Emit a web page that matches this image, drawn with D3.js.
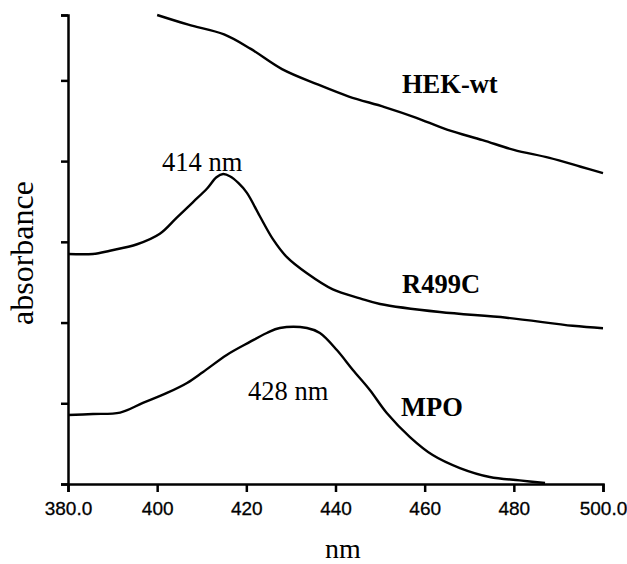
<!DOCTYPE html>
<html>
<head>
<meta charset="utf-8">
<script src="https://cdn.jsdelivr.net/npm/d3@7"></script>
<style>
  body { margin: 0; background: #fff; }
  svg { display: block; }
  .serif { font-family: "Liberation Serif", "Times New Roman", serif; fill: #000; }
  .tick text { font-family: "Liberation Sans", Arial, sans-serif; }
</style>
</head>
<body>
<svg id="chart" width="627" height="564"></svg>
<script>
// wavelength (nm) and absorbance (offset, arbitrary units)
const hekNm  = [400, 407, 415, 421, 428, 436, 443, 451, 458, 465, 473, 480, 488, 495, 500];
const hekAbs = [5.81, 5.69, 5.57, 5.39, 5.14, 4.95, 4.80, 4.67, 4.54, 4.39, 4.26, 4.14, 4.04, 3.93, 3.85];

const r499Nm  = [380, 385.6, 389.4, 395.5, 400.6, 404.4, 408, 411.2, 413.3, 414.8, 416.4, 418.2, 420.1, 423, 426, 429.1, 433.6, 439.4, 445.5, 450, 463.4, 478.4, 493.2, 500];
const r499Abs = [2.85, 2.85, 2.89, 2.97, 3.10, 3.30, 3.49, 3.66, 3.80, 3.84, 3.81, 3.73, 3.61, 3.32, 3.03, 2.81, 2.61, 2.41, 2.30, 2.23, 2.13, 2.06, 1.96, 1.93];

const mpoNm  = [380, 385.6, 391.7, 396.8, 402.2, 406.7, 410.3, 415.6, 420.8, 424.6, 427.5, 433.6, 436.5, 440.3, 443.9, 447.7, 451.5, 456.7, 461.8, 467.9, 474.6, 481.3, 487];
const mpoAbs = [0.855, 0.867, 0.885, 1.004, 1.128, 1.252, 1.388, 1.599, 1.760, 1.871, 1.933, 1.933, 1.871, 1.660, 1.413, 1.165, 0.880, 0.582, 0.359, 0.198, 0.087, 0.045, 0.012];

const xTicks = [380, 400, 420, 440, 460, 480, 500];
const xTickLabels = ["380.0", "400", "420", "440", "460", "480", "500.0"];
const yTicks = [0, 1, 2, 3, 4, 5, 5.81];

const svg = d3.select('#chart');

const x = d3.scaleLinear().domain([380, 500]).range([68, 603]);
const y = d3.scaleLinear().domain([0, 5.81]).range([484, 15]);

// axes
const xAxis = svg.append('g')
  .attr('transform', `translate(0,${y(0)})`)
  .call(d3.axisBottom(x)
    .tickValues(xTicks)
    .tickFormat((d, i) => xTickLabels[i])
    .tickSize(8)
    .tickPadding(10));

const yAxis = svg.append('g')
  .attr('transform', `translate(${x(380)},0)`)
  .call(d3.axisLeft(y)
    .tickValues(yTicks)
    .tickFormat('')
    .tickSize(7));

[xAxis, yAxis].forEach(a => {
  a.select('.domain').attr('stroke', '#000').attr('stroke-width', 2.5);
  a.selectAll('.tick line').attr('stroke', '#000').attr('stroke-width', 2.5);
});
xAxis.attr('font-size', 19);
xAxis.selectAll('.tick text')
  .attr('fill', '#000')
  .attr('stroke', '#000')
  .attr('stroke-width', 0.3);

// spectra
const line = d3.line()
  .x(d => x(d[0]))
  .y(d => y(d[1]))
  .curve(d3.curveCatmullRom.alpha(0.5));

const series = [
  d3.zip(hekNm, hekAbs),
  d3.zip(r499Nm, r499Abs),
  d3.zip(mpoNm, mpoAbs)
];

svg.append('g')
  .selectAll('path')
  .data(series)
  .join('path')
    .attr('d', line)
    .attr('fill', 'none')
    .attr('stroke', '#000')
    .attr('stroke-width', 2.4)
    .attr('stroke-linejoin', 'round');

// series labels and peak annotations
const labels = [
  { t: 'HEK-wt', x: 402, y: 93, bold: true },
  { t: 'R499C', x: 402, y: 293, bold: true },
  { t: 'MPO', x: 401, y: 416, bold: true },
  { t: '414 nm', x: 162, y: 171, bold: false },
  { t: '428 nm', x: 248, y: 400, bold: false }
];

svg.append('g')
  .selectAll('text')
  .data(labels)
  .join('text')
    .attr('class', 'serif')
    .attr('x', d => d.x)
    .attr('y', d => d.y)
    .style('font-size', '26.5px')
    .style('font-weight', d => d.bold ? 'bold' : 'normal')
    .text(d => d.t);

// axis titles
svg.append('text')
  .attr('class', 'serif')
  .attr('x', 343)
  .attr('y', 558)
  .attr('text-anchor', 'middle')
  .style('font-size', '28px')
  .text('nm');

svg.append('text')
  .attr('class', 'serif')
  .attr('transform', 'translate(33,253) rotate(-90)')
  .attr('text-anchor', 'middle')
  .style('font-size', '32px')
  .text('absorbance');
</script>
</body>
</html>
